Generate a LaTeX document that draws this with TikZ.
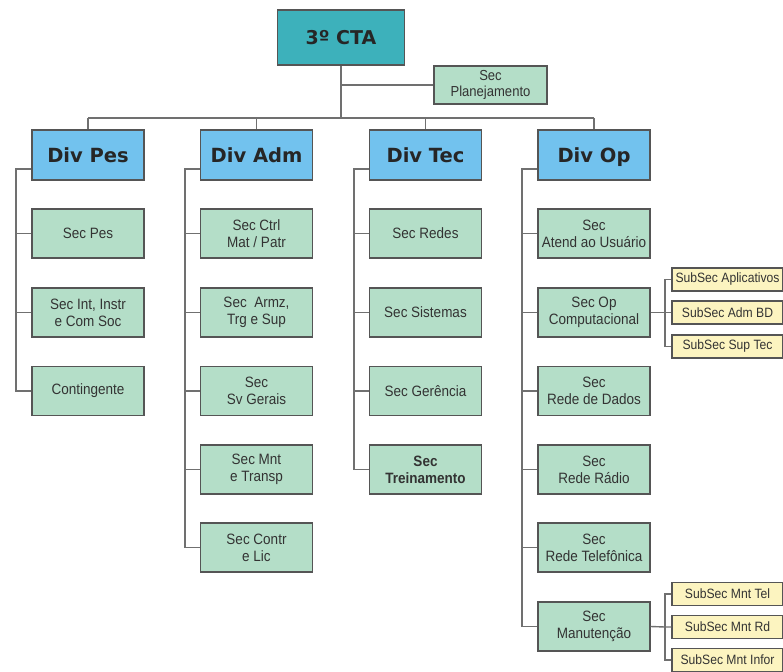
\documentclass[tikz,border=0pt]{standalone}
\usepackage{fontspec}
\setmainfont{Liberation Sans}[FakeStretch=0.9]
\newfontfamily\divfont{DejaVu Sans}
\definecolor{ctateal}{HTML}{3DB1BB}
\definecolor{divblue}{HTML}{72C2EE}
\definecolor{secgreen}{HTML}{B4DEC8}
\definecolor{subyellow}{HTML}{FCF4C0}
\definecolor{boxline}{HTML}{555555}
\definecolor{conn}{HTML}{707070}
\begin{document}
\begin{tikzpicture}[x=1pt,y=-1pt,
  box/.style={draw=boxline,line width=1.3pt,rectangle,inner sep=0pt,align=center},
  ctabox/.style={box,fill=ctateal,minimum width=127pt,minimum height=55pt,font=\divfont\bfseries\fontsize{19}{21}\selectfont,text=black!85,text height=14pt,text depth=0pt},
  divbox/.style={box,fill=divblue,minimum width=112pt,minimum height=50pt,font=\divfont\bfseries\fontsize{19.5}{21}\selectfont,text=black!85,text height=14pt,text depth=0pt},
  secbox/.style={box,fill=secgreen,minimum width=112pt,minimum height=49pt,font=\fontsize{15}{17}\selectfont,text=black!80},
  planbox/.style={box,fill=secgreen,minimum width=113pt,minimum height=38pt,font=\fontsize{14.5}{16}\selectfont,text=black!80},
  subbox/.style={box,fill=subyellow,minimum width=111pt,minimum height=23pt,font=\fontsize{13.5}{14}\selectfont,text=black!80},
  wire/.style={draw=conn,line width=1.4pt}]
\useasboundingbox (0,0) rectangle (783,671);

% top
\node[ctabox] (cta) at (341,37.5) {3º CTA};
\node[planbox] (plan) at (490.5,85) {Sec\\Planejamento};
\coordinate (bus) at (341,118);
\coordinate (planj) at (341,85);
\draw[wire] (cta.south) -- (bus);
\draw[wire] (planj) -- (plan.west);

% divisions
\node[divbox] (dpes) at (88,155) {Div Pes};
\node[divbox] (dadm) at (256.5,155) {Div Adm};
\node[divbox] (dtec) at (425.5,155) {Div Tec};
\node[divbox] (dop) at (594,155) {Div Op};
\coordinate (busl) at (88,118);
\coordinate (busr) at (594,118);
\coordinate (busadm) at (256.5,118);
\coordinate (bustec) at (425.5,118);
\draw[wire] (busl) -- (busr);
\draw[wire] (busl) -- (dpes.north);
\draw[wire] (busadm) -- (dadm.north);
\draw[wire] (bustec) -- (dtec.north);
\draw[wire] (busr) -- (dop.north);

% Div Pes
\node[secbox] (p1) at (88,233.5) {Sec Pes};
\node[secbox] (p2) at (88,312.5) {Sec Int, Instr\\e Com Soc};
\node[secbox] (p3) at (88,391) {Contingente};
\coordinate (ps0) at (16,169);
\coordinate (ps3) at (16,391);
\draw[wire] (dpes.west |- ps0) -- (ps0) -- (ps3) -- (p3.west);
\draw[wire] (ps0 |- p1.west) -- (p1.west);
\draw[wire] (ps0 |- p2.west) -- (p2.west);

% Div Adm
\node[secbox] (a1) at (256.5,233.5) {Sec Ctrl\\Mat / Patr};
\node[secbox] (a2) at (256.5,312.5) {Sec\ \ Armz,\\Trg e Sup};
\node[secbox] (a3) at (256.5,391) {Sec\\Sv Gerais};
\node[secbox] (a4) at (256.5,469.5) {Sec Mnt\\e Transp};
\node[secbox] (a5) at (256.5,547.5) {Sec Contr\\e Lic};
\coordinate (as0) at (185,169);
\coordinate (as5) at (185,547.5);
\draw[wire] (dadm.west |- as0) -- (as0) -- (as5) -- (a5.west);
\foreach \n in {a1,a2,a3,a4} \draw[wire] (as0 |- \n.west) -- (\n.west);

% Div Tec
\node[secbox] (t1) at (425.5,233.5) {Sec Redes};
\node[secbox] (t2) at (425.5,312.5) {Sec Sistemas};
\node[secbox] (t3) at (425.5,391) {Sec Gerência};
\node[secbox,font=\bfseries\fontsize{15}{17}\selectfont] (t4) at (425.5,469.5) {Sec\\Treinamento};
\coordinate (ts0) at (354,169);
\coordinate (ts4) at (354,469.5);
\draw[wire] (dtec.west |- ts0) -- (ts0) -- (ts4) -- (t4.west);
\foreach \n in {t1,t2,t3} \draw[wire] (ts0 |- \n.west) -- (\n.west);

% Div Op
\node[secbox] (o1) at (594,233.5) {Sec\\Atend ao Usuário};
\node[secbox] (o2) at (594,312.5) {Sec Op\\Computacional};
\node[secbox] (o3) at (594,391) {Sec\\Rede de Dados};
\node[secbox] (o4) at (594,469.5) {Sec\\Rede Rádio};
\node[secbox] (o5) at (594,547.5) {Sec\\Rede Telefônica};
\node[secbox] (o6) at (594,626.5) {Sec\\Manutenção};
\coordinate (os0) at (522,169);
\coordinate (os6) at (522,626.5);
\draw[wire] (dop.west |- os0) -- (os0) -- (os6) -- (o6.west);
\foreach \n in {o1,o2,o3,o4,o5} \draw[wire] (os0 |- \n.west) -- (\n.west);

% SubSec of Op Computacional
\node[subbox] (s1) at (727.5,279.5) {SubSec Aplicativos};
\node[subbox] (s2) at (727.5,312.5) {SubSec Adm BD};
\node[subbox] (s3) at (727.5,346.5) {SubSec Sup Tec};
\coordinate (ss) at (665,312.5);
\draw[wire] (o2.east) -- (s2.west);
\draw[wire] (s1.west) -- (ss |- s1.west) -- (ss |- s3.west) -- (s3.west);

% SubSec of Manutencao
\node[subbox] (m1) at (727.5,594) {SubSec Mnt Tel};
\node[subbox] (m2) at (727.5,627) {SubSec Mnt Rd};
\node[subbox] (m3) at (727.5,660) {SubSec Mnt Infor};
\coordinate (ms) at (665,627);
\draw[wire] (o6.east) -- (ms) -- (m2.west);
\draw[wire] (m1.west) -- (ms |- m1.west) -- (ms |- m3.west) -- (m3.west);
\end{tikzpicture}
\end{document}
